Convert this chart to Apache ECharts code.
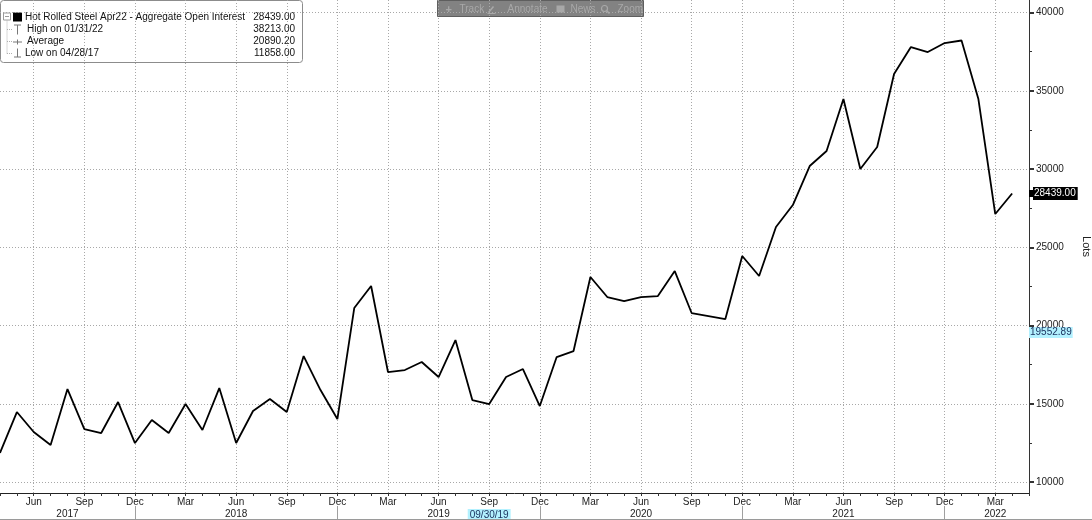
<!DOCTYPE html>
<html><head><meta charset="utf-8">
<script src="https://cdn.jsdelivr.net/npm/echarts@6/dist/echarts.min.js"></script>
<style>html,body{margin:0;padding:0;background:#fff}#c{width:1092px;height:520px}</style>
</head><body><div id="c"></div>
<script>
// ---- data ----
const months = [
 '2017-04','2017-05','2017-06','2017-07','2017-08','2017-09','2017-10','2017-11','2017-12',
 '2018-01','2018-02','2018-03','2018-04','2018-05','2018-06','2018-07','2018-08','2018-09','2018-10','2018-11','2018-12',
 '2019-01','2019-02','2019-03','2019-04','2019-05','2019-06','2019-07','2019-08','2019-09','2019-10','2019-11','2019-12',
 '2020-01','2020-02','2020-03','2020-04','2020-05','2020-06','2020-07','2020-08','2020-09','2020-10','2020-11','2020-12',
 '2021-01','2021-02','2021-03','2021-04','2021-05','2021-06','2021-07','2021-08','2021-09','2021-10','2021-11','2021-12',
 '2022-01','2022-02','2022-03','2022-04','2022-05'
];
const openInterest = [
 11858,14473,13195,12364,15942,13387,13131,15112,12492,
 13962,13131,14984,13323,16006,12492,14537,15304,14473,18051,15879,14026,
 21118,22524,17029,17157,17668,16709,19073,15240,14984,16709,17220,14856,
 17987,18371,23099,21821,21565,21821,21885,23482,20799,20607,20415,24441,
 23163,26294,27700,30192,31150,34473,30000,31406,36070,37796,37476,38051,
 38213,34473,27125,28439
];
const monthNames = ['Jan','Feb','Mar','Apr','May','Jun','Jul','Aug','Sep','Oct','Nov','Dec'];
const labelMonths = [3,6,9,12];
const yTicks = [10000,15000,20000,25000,30000,35000,40000];
const yMinorTicks = [12500,17500,22500,27500,32500,37500];
const yearLabelAt = ['2017-08','2018-06','2019-06','2020-06','2021-06','2022-03'];
const yearLabelText = ['2017','2018','2019','2020','2021','2022'];
const lastValue = 28439;
const cursorValue = 19552.89;
const cursorDate = '2019-09';
const cursorDateText = '09/30/19';
const seriesName = 'Hot Rolled Steel Apr22 - Aggregate Open Interest';
const statNames = ['High on 01/31/22','Average','Low on 04/28/17'];
const statValues = ['38213.00','20890.20','11858.00'];
const lastValueText = '28439.00';

const FONT = '"Liberation Sans", Arial, sans-serif';
const monthOf = v => parseInt(v.slice(5),10);

const chart = echarts.init(document.getElementById('c'), null, {renderer:'canvas'});
const grid = {left:0, right:63, top:0, bottom:27, containLabel:false, outerBoundsMode:'none'};
const yMin = 9300, yMax = 40800;

const option = {
  animation:false,
  backgroundColor:'#fff',
  textStyle:{fontFamily:FONT},
  grid:grid,
  xAxis:[{
    type:'category', data:months, boundaryGap:false, position:'bottom',
    axisLine:{show:true, lineStyle:{color:'#222', width:1}},
    axisTick:{show:true, interval:0, length:3, lineStyle:{color:'#333'}},
    axisLabel:{
      interval:(i,v)=>labelMonths.includes(monthOf(v)),
      formatter:v=>monthNames[monthOf(v)-1],
      fontFamily:FONT, fontSize:10, color:'#222', margin:4
    },
    splitLine:{show:true, interval:(i,v)=>labelMonths.includes(monthOf(v)),
      lineStyle:{color:'#a8a8a8', type:[1,2], width:1}}
  },{
    type:'category', data:months, boundaryGap:false, position:'bottom', offset:13,
    axisLine:{show:false},
    axisTick:{show:true, interval:(i,v)=>monthOf(v)===12, length:15, lineStyle:{color:'#a0a0a0'}},
    axisLabel:{
      interval:(i,v)=>yearLabelAt.includes(v) || v===cursorDate,
      formatter:v=> v===cursorDate ? '{c|'+cursorDateText+'}' : yearLabelText[yearLabelAt.indexOf(v)],
      fontFamily:FONT, fontSize:10, color:'#222', margin:3,
      rich:{c:{backgroundColor:'#b3f1ff', color:'#1d3561', fontSize:10, fontFamily:FONT, padding:[1,2,0,2]}}
    },
    splitLine:{show:false}
  }],
  yAxis:[{
    type:'value', position:'right', min:yMin, max:yMax,
    name:'Lots', nameLocation:'middle', nameRotate:-90, nameGap:52,
    nameTextStyle:{fontFamily:FONT, fontSize:11, color:'#222'},
    axisLine:{show:true, lineStyle:{color:'#333', width:1}},
    axisTick:{show:true, customValues:yTicks, length:5, lineStyle:{color:'#333', width:2}},
    axisLabel:{customValues:yTicks, formatter:v=>String(v), fontFamily:FONT, fontSize:10, color:'#222', margin:7},
    splitLine:{show:true, lineStyle:{color:'#a8a8a8', type:[1,2], width:1}}
  },{
    type:'value', position:'right', min:yMin, max:yMax,
    axisLine:{show:false},
    axisTick:{show:true, customValues:yMinorTicks, length:3, lineStyle:{color:'#333'}},
    axisLabel:{show:false}, splitLine:{show:false}
  },{
    type:'value', position:'right', min:yMin, max:yMax,
    axisLine:{show:false},
    axisTick:{show:false},
    axisLabel:{customValues:[cursorValue], formatter:v=>v.toFixed(2), fontFamily:FONT, fontSize:10,
      color:'#1d3561', backgroundColor:'#b3f1ff', padding:[1,1,0,1], margin:0},
    splitLine:{show:false}
  },{
    type:'value', position:'right', min:yMin, max:yMax,
    axisLine:{show:false},
    axisTick:{show:true, customValues:[lastValue], length:4, lineStyle:{color:'#000', width:7}},
    axisLabel:{customValues:[lastValue], formatter:()=>lastValueText, fontFamily:FONT, fontSize:10,
      color:'#fff', backgroundColor:'#000', padding:[2,2,1,1], margin:4},
    splitLine:{show:false}
  }],
  series:[{
    type:'line', name:seriesName, data:openInterest, xAxisIndex:0, yAxisIndex:0,
    showSymbol:false, symbol:'none',
    lineStyle:{color:'#000', width:1.8}, z:3
  }],
  graphic:[
    {type:'line', shape:{x1:0,y1:519.5,x2:1092,y2:519.5}, style:{stroke:'#9a9a9a', lineWidth:1}, z:10},
    {type:'group', left:437, top:0, z:20, children:[
      {type:'rect', shape:{x:0,y:-2,width:206,height:16}, style:{fill:'rgba(95,95,95,0.78)', stroke:'#5e5e5e'}},
      {type:'text', x:8, y:7, style:{text:'+', fill:'#a8a8a8', font:'bold 11px '+FONT, verticalAlign:'middle'}},
      {type:'text', x:22, y:7, style:{text:'Track', fill:'#a8a8a8', font:'10px '+FONT, verticalAlign:'middle'}},
      {type:'line', shape:{x1:51,y1:10,x2:56,y2:4}, style:{stroke:'#a8a8a8', lineWidth:1.5}},
      {type:'line', shape:{x1:50,y1:11,x2:58,y2:11}, style:{stroke:'#a8a8a8', lineWidth:1}},
      {type:'text', x:70, y:7, style:{text:'Annotate', fill:'#a8a8a8', font:'10px '+FONT, verticalAlign:'middle'}},
      {type:'rect', shape:{x:119,y:3,width:8,height:7}, style:{fill:'#a8a8a8'}},
      {type:'text', x:133, y:7, style:{text:'News', fill:'#a8a8a8', font:'10px '+FONT, verticalAlign:'middle'}},
      {type:'circle', shape:{cx:167,cy:6,r:3}, style:{fill:'none', stroke:'#a8a8a8', lineWidth:1.2}},
      {type:'line', shape:{x1:169,y1:8,x2:172,y2:11}, style:{stroke:'#a8a8a8', lineWidth:1.5}},
      {type:'text', x:180, y:7, style:{text:'Zoom', fill:'#a8a8a8', font:'10px '+FONT, verticalAlign:'middle'}}
    ]},
    {type:'group', left:0, top:0, z:20, children:[
      {type:'rect', shape:{x:0.5,y:-4,width:302,height:62,r:3}, style:{fill:'#fff', stroke:'#8c8c8c', lineWidth:1}},
      {type:'rect', shape:{x:3.5,y:8.5,width:7,height:7}, style:{fill:'#fff', stroke:'#9a9a9a', lineWidth:1}},
      {type:'line', shape:{x1:5,y1:12,x2:9,y2:12}, style:{stroke:'#9a9a9a', lineWidth:1}},
      {type:'line', shape:{x1:7,y1:16,x2:7,y2:49}, style:{stroke:'#b0b0b0', lineWidth:1, lineDash:[1,1]}},
      {type:'line', shape:{x1:7,y1:25,x2:12,y2:25}, style:{stroke:'#b0b0b0', lineWidth:1, lineDash:[1,1]}},
      {type:'line', shape:{x1:7,y1:37,x2:12,y2:37}, style:{stroke:'#b0b0b0', lineWidth:1, lineDash:[1,1]}},
      {type:'line', shape:{x1:7,y1:49,x2:12,y2:49}, style:{stroke:'#b0b0b0', lineWidth:1, lineDash:[1,1]}},
      {type:'rect', shape:{x:13,y:8,width:9,height:9}, style:{fill:'#000'}},
      {type:'line', shape:{x1:14,y1:20.5,x2:21,y2:20.5}, style:{stroke:'#777', lineWidth:1}},
      {type:'line', shape:{x1:17.5,y1:20.5,x2:17.5,y2:30}, style:{stroke:'#777', lineWidth:1}},
      {type:'line', shape:{x1:13,y1:37.5,x2:22,y2:37.5}, style:{stroke:'#777', lineWidth:1}},
      {type:'line', shape:{x1:17.5,y1:35,x2:17.5,y2:40}, style:{stroke:'#777', lineWidth:1}},
      {type:'line', shape:{x1:17.5,y1:44,x2:17.5,y2:52.5}, style:{stroke:'#777', lineWidth:1}},
      {type:'line', shape:{x1:14,y1:52.5,x2:21,y2:52.5}, style:{stroke:'#777', lineWidth:1}},
      {type:'text', x:25, y:12.5, style:{text:seriesName, fill:'#111', font:'10px '+FONT, verticalAlign:'middle'}},
      {type:'text', x:27, y:25, style:{text:statNames[0], fill:'#111', font:'10px '+FONT, verticalAlign:'middle'}},
      {type:'text', x:27, y:37, style:{text:statNames[1], fill:'#111', font:'10px '+FONT, verticalAlign:'middle'}},
      {type:'text', x:25, y:49, style:{text:statNames[2], fill:'#111', font:'10px '+FONT, verticalAlign:'middle'}},
      {type:'text', x:295, y:12.5, style:{text:lastValueText, fill:'#111', font:'10px '+FONT, align:'right', verticalAlign:'middle'}},
      {type:'text', x:295, y:25, style:{text:statValues[0], fill:'#111', font:'10px '+FONT, align:'right', verticalAlign:'middle'}},
      {type:'text', x:295, y:37, style:{text:statValues[1], fill:'#111', font:'10px '+FONT, align:'right', verticalAlign:'middle'}},
      {type:'text', x:295, y:49, style:{text:statValues[2], fill:'#111', font:'10px '+FONT, align:'right', verticalAlign:'middle'}}
    ]}
  ]
};
chart.setOption(option);
</script>
</body></html>
